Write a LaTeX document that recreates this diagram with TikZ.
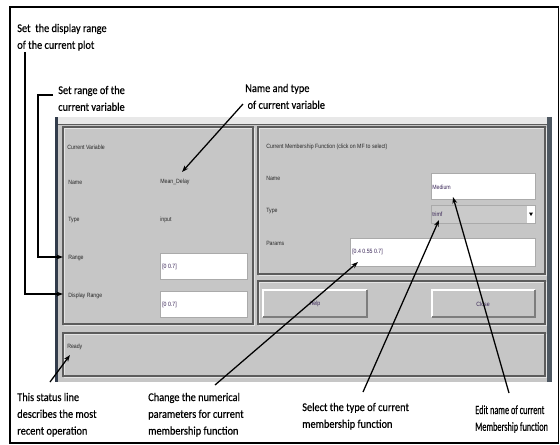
\documentclass[tikz,border=0pt]{standalone}
\usepackage{fontspec}
\usetikzlibrary{arrows.meta}
\newfontfamily\annfont[FakeStretch=0.88,FakeBold=0.35]{Carlito}
\newfontfamily\annnarrowfont[FakeStretch=0.66,FakeBold=0.35]{Carlito}
\newfontfamily\guifont[FakeStretch=0.85]{Liberation Sans}
\definecolor{winbody}{RGB}{198,198,198}
\definecolor{winstrip}{RGB}{232,232,232}
\definecolor{winedge}{RGB}{50,60,75}
\definecolor{winbar}{RGB}{78,88,98}
\definecolor{paneldark}{RGB}{92,92,92}
\definecolor{panellight}{RGB}{228,228,228}
\definecolor{guitext}{RGB}{40,40,40}
\definecolor{valtext}{RGB}{55,35,85}
\definecolor{boxedge}{RGB}{170,170,170}
\begin{document}
\begin{tikzpicture}[x=0.75pt,y=-0.75pt,
  ann/.style={font=\annfont\fontsize{8.8}{12.6}\selectfont, inner sep=0pt, anchor=base west},
  annnarrow/.style={ann, font=\annnarrowfont\fontsize{9.4}{12.6}\selectfont},
  gui/.style={font=\guifont\fontsize{4.6}{5.5}\selectfont, text=guitext, inner sep=0pt, anchor=west},
  val/.style={gui, text=valtext},
  conn/.style={line width=0.95pt, -{Stealth[length=5pt,width=3.6pt]}},
  panelbox/.style={draw=paneldark, line width=0.8pt},
  panelhi/.style={draw=panellight, line width=0.5pt},
  entry/.style={fill=white, draw=boxedge, line width=0.5pt}
]
\useasboundingbox (0,0) rectangle (560,444);
\fill[white] (0,0) rectangle (560,444);

% outer frame
\draw[line width=0.9pt] (10,7) rectangle (558.5,443);
\draw[line width=1.6pt] (10,7) -- (558.5,7);

% window
\fill[winstrip] (55,117) rectangle (548,124);
\fill[winbody] (57,124) rectangle (547,382);
\draw[paneldark, line width=0.8pt] (57,124.5) -- (547,124.5);
\fill[winedge] (55,117) rectangle (57.5,382);
\fill[winbar] (547,117) rectangle (551.5,382);

% panels: current variable, membership function, buttons, status
\draw[panelhi] (64.5,128.5) rectangle (254.5,325.5);
\draw[panelbox] (63,127) rectangle (253,324);
\draw[panelhi] (259.5,128.5) rectangle (546.5,275.5);
\draw[panelbox] (258,127) rectangle (545,274);
\draw[panelhi] (259.5,282.5) rectangle (546.5,325.5);
\draw[panelbox] (258,281) rectangle (545,324);
\draw[panelhi] (64.5,334.5) rectangle (546.5,377.5);
\draw[panelbox] (63,333) rectangle (545,376);

% entry fields
\draw[entry] (160,253) rectangle (247,279);
\draw[entry] (160,291) rectangle (247,317);
\draw[entry] (431,173) rectangle (535,199);
\draw[entry] (350,238) rectangle (535,266);

% popup menu
\fill[winbody!92!white] (431,205) rectangle (535,223);
\draw[boxedge, line width=0.5pt] (431,205) rectangle (535,223);
\fill[white] (527,206) rectangle (534.5,222.5);
\fill[black] (529,212.5) -- (533,212.5) -- (531,216) -- cycle;

% push buttons
\fill[winbody] (263,290) rectangle (367,317);
\draw[white, line width=0.8pt] (263,317) -- (263,290) -- (367,290);
\draw[paneldark!80, line width=0.8pt] (263,317) -- (367,317) -- (367,290);
\fill[winbody] (432,290) rectangle (535,317);
\draw[white, line width=0.8pt] (432,317) -- (432,290) -- (535,290);
\draw[paneldark!80, line width=0.8pt] (432,317) -- (535,317) -- (535,290);

% GUI texts
\node[gui] (cvtitle) at (67,147) {Current Variable};
\node[gui] (cvname) at (68,182) {Name};
\node[gui] (cvnameval) at (160,182) {Mean\_Delay};
\node[gui] (cvtype) at (68,220) {Type};
\node[gui] (cvtypeval) at (160,220) {input};
\node[gui] (cvrange) at (68,258) {Range};
\node[val] (cvrangeval) at (162,267) {[0 0.7]};
\node[gui] (cvdisp) at (68,296) {Display Range};
\node[val] (cvdispval) at (162,305) {[0 0.7]};
\node[gui] (mftitle) at (266,147) {Current Membership Function (click on MF to select)};
\node[gui] (mfname) at (266,178) {Name};
\node[gui] (mftype) at (266,211) {Type};
\node[gui] (mfparams) at (266,243) {Params};
\node[val] (mfnameval) at (432,187) {Medium};
\node[val] (mftypeval) at (432,214) {trimf};
\node[val] (mfparamsval) at (352,252) {[0.4 0.55 0.7]};
\node[gui, anchor=center, text=valtext] (helpbtn) at (315,304) {Help};
\node[gui, anchor=center, text=valtext] (closebtn) at (483,304) {Close};
\node[gui] (status) at (67,347) {Ready};

% annotations
\node[ann] (a1) at (17,32) {\begin{tabular}[t]{@{}l@{}}Set\ \ the display range\\of the current plot\end{tabular}};
\node[ann] (a2) at (58,94) {\begin{tabular}[t]{@{}l@{}}Set range of the\\current variable\end{tabular}};
\node[ann] (a3) at (245,92) {\begin{tabular}[t]{@{}l@{}}Name and type\\\ of current variable\end{tabular}};
\node[ann] (a4) at (17,401) {\begin{tabular}[t]{@{}l@{}}This status line\\describes the most\\recent operation\end{tabular}};
\node[ann] (a5) at (148,401) {\begin{tabular}[t]{@{}l@{}}Change the numerical\\parameters for current\\membership function\end{tabular}};
\node[ann] (a6) at (302,411) {\begin{tabular}[t]{@{}l@{}}Select the type of current\\membership function\end{tabular}};
\node[annnarrow] (a7) at (475,414) {\begin{tabular}[t]{@{}l@{}}Edit name of current\\Membership function\end{tabular}};

% connector end points
\coordinate (a1s) at (25,52);
\coordinate (dispin) at (63,294);
\coordinate (a2s) at (53,95);
\coordinate (a2c) at (38,95);
\coordinate (rangein) at (63,257);
\coordinate (a3s) at (243,104);
\coordinate (namein) at (182,172);
\coordinate (a4s) at (50,382);
\coordinate (statusin) at (70,355);
\coordinate (a5s) at (215,385);
\coordinate (paramsin) at (358,262);
\coordinate (a6s) at (363,392);
\coordinate (typein) at (439,220);
\coordinate (a7s) at (509,393);
\coordinate (mfnamein) at (453,197);

% connectors
\draw[conn] (a1s) |- (dispin);
\draw[conn] (a2s) -- (a2c) |- (rangein);
\draw[conn] (a3s) -- (namein);
\draw[conn] (a4s) -- (statusin);
\draw[conn] (a5s) -- (paramsin);
\draw[conn] (a6s) -- (typein);
\draw[conn] (a7s) -- (mfnamein);
\end{tikzpicture}
\end{document}
